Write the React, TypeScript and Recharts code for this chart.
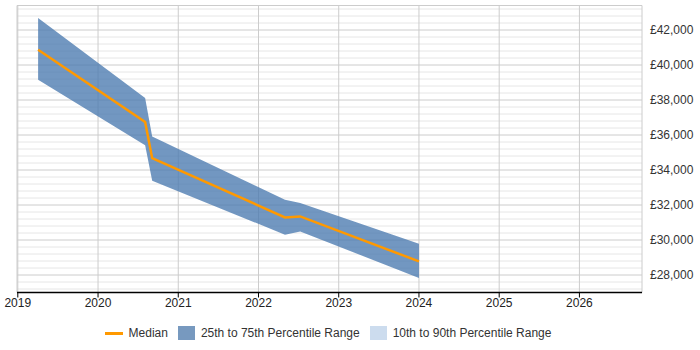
import React from "react";
import { ComposedChart, Area, Line, XAxis, YAxis, CartesianGrid } from "recharts";

// Sample dates (decimal years) and salary percentiles
const dates = [2019.253, 2020.587, 2020.675, 2022.33, 2022.52, 2024.0];
const median = [40874, 36743, 34674, 31291, 31349, 28777];
const p25 = [39160, 35417, 33389, 30303, 30491, 27829];
const p75 = [42686, 38114, 35920, 32303, 32114, 29789];

const yearTicks = [2019, 2020, 2021, 2022, 2023, 2024, 2025, 2026];
const salaryTicks = [28000, 30000, 32000, 34000, 36000, 38000, 40000, 42000];
const minorSalaryLines = [
  27200, 27600, 28400, 28800, 29200, 29600, 30400, 30800, 31200, 31600,
  32400, 32800, 33200, 33600, 34400, 34800, 35200, 35600, 36400, 36800,
  37200, 37600, 38400, 38800, 39200, 39600, 40400, 40800, 41200, 41600,
  42400, 42800, 43200,
];

const data = dates.map((d, i) => ({
  date: d,
  median: median[i],
  range: [p25[i], p75[i]],
}));

const FONT = "'Liberation Sans', Arial, Helvetica, sans-serif";
const SALARY_DOMAIN: [number, number] = [27000, 43400];

const formatSalary = (v: number) => "£" + v.toLocaleString("en-GB");

function ChartLegend() {
  const item: React.CSSProperties = { display: "flex", alignItems: "center", marginRight: 10 };
  const text: React.CSSProperties = { fontSize: 12, color: "#333", fontFamily: FONT };
  return (
    <div
      style={{
        position: "absolute",
        left: -17,
        top: 326,
        width: 700,
        display: "flex",
        justifyContent: "center",
        alignItems: "center",
      }}
    >
      <div style={item}>
        <div style={{ width: 18, height: 3, background: "#ff9900", marginRight: 6 }} />
        <span style={text}>Median</span>
      </div>
      <div style={item}>
        <div style={{ width: 17, height: 14, background: "#7799bf", marginRight: 6 }} />
        <span style={text}>25th to 75th Percentile Range</span>
      </div>
      <div style={item}>
        <div style={{ width: 17, height: 14, background: "#ccdcee", marginRight: 6 }} />
        <span style={text}>10th to 90th Percentile Range</span>
      </div>
    </div>
  );
}

export default function App() {
  return (
    <div style={{ position: "absolute", left: 0, top: 0, width: 700, height: 350, background: "#fff" }}>
      <ComposedChart
        width={700}
        height={350}
        data={data}
        margin={{ top: 5.5, right: 0, bottom: 27.5, left: 17 }}
        style={{ fontFamily: FONT }}
      >
        {/* faint minor rows every 400 */}
        <CartesianGrid stroke="#e6e6e6" vertical={false} yAxisId="minor" />
        <CartesianGrid stroke="#cccccc" />
        <XAxis
          dataKey="date"
          type="number"
          domain={[2018.99, 2026.78]}
          ticks={yearTicks}
          allowDataOverflow
          tickFormatter={(v: number) => String(v)}
          axisLine={{ stroke: "#000", strokeWidth: 1.5 }}
          tickLine={{ stroke: "#000" }}
          tickSize={5}
          tickMargin={1}
          tick={{ fill: "#222", fontSize: 12 }}
        />
        <YAxis
          yAxisId="minor"
          orientation="left"
          type="number"
          domain={SALARY_DOMAIN}
          ticks={minorSalaryLines}
          interval={0}
          allowDataOverflow
          hide
        />
        <YAxis
          orientation="right"
          type="number"
          domain={SALARY_DOMAIN}
          ticks={salaryTicks}
          interval={0}
          allowDataOverflow
          width={58}
          axisLine={false}
          tickLine={false}
          tickSize={6}
          tickMargin={2}
          tickFormatter={formatSalary}
          tick={{ fill: "#333", fontSize: 12, textAnchor: "start" }}
        />
        <Area
          dataKey="range"
          type="linear"
          stroke="none"
          fill="#4a7ab0"
          fillOpacity={0.78}
          isAnimationActive={false}
          activeDot={false}
        />
        <Line
          dataKey="median"
          type="linear"
          stroke="#ff9900"
          strokeWidth={2.5}
          dot={false}
          activeDot={false}
          isAnimationActive={false}
        />
      </ComposedChart>
      <ChartLegend />
    </div>
  );
}
